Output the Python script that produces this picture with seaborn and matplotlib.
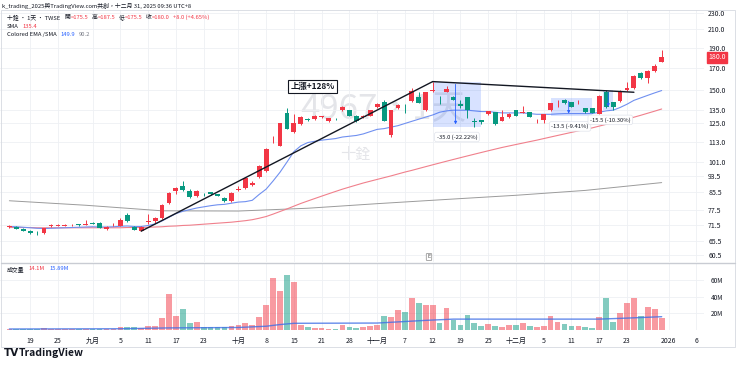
import numpy as np
import pandas as pd
import matplotlib
matplotlib.use("Agg")
import matplotlib.pyplot as plt
import seaborn as sns
from matplotlib.ticker import NullLocator
from matplotlib.lines import Line2D
from matplotlib.patches import Rectangle

# 十銓 (4967) daily bars, index 0 = 8/19
days = np.arange(-3, 92)

opens = [70.6, 70.6, 70.0, 69.0, 68.6, 68.2, 70.9, 71.0, 71.1, 71.2,
         71.5, 71.5, 71.9, 72.1, 69.8, 71.2, 71.0, 75.4, 70.6, 69.2,
         72.4, 72.8, 74.1, 80.8, 86.0, 88.6, 86.3, 83.8, 84.8, 85.5,
         84.5, 83.0, 81.6, 86.6, 87.4, 88.9, 92.8, 96.0, 113.2, 110.6,
         132.5, 119.5, 124.5, 128.0, 127.8, 129.3, 126.5, 128.3, 134.5, 134.5,
         130.4, 129.3, 130.4, 137.0, 141.0, 117.5, 136.1, 137.2, 141.5, 144.4,
         134.6, 149.8, 142.5, 149.0, 145.0, 139.4, 144.5, 126.9, 127.2, 131.7,
         133.0, 126.9, 129.4, 134.5, 132.6, 133.0, 127.8, 127.6, 134.5, 139.0,
         142.6, 140.5, 139.8, 135.8, 135.8, 132.0, 148.5, 140.5, 141.5, 150.2,
         152.0, 165.0, 160.3, 166.8, 175.5]
highs = [71.2, 71.0, 70.2, 69.3, 69.2, 70.4, 71.8, 71.6, 71.7, 71.8,
         71.9, 73.2, 72.6, 72.4, 70.8, 72.0, 74.2, 76.4, 70.9, 70.9,
         75.8, 74.5, 80.0, 85.5, 88.0, 91.0, 87.0, 86.6, 85.2, 85.8,
         84.8, 83.5, 85.5, 88.5, 93.2, 90.8, 99.5, 109.0, 116.5, 125.5,
         136.0, 131.5, 130.5, 129.0, 131.0, 130.6, 129.0, 128.8, 138.0, 135.0,
         130.8, 131.0, 135.0, 140.0, 142.5, 134.8, 139.5, 139.4, 152.3, 148.6,
         149.0, 157.5, 145.5, 153.5, 145.5, 142.0, 145.0, 128.5, 127.5, 134.2,
         133.5, 134.5, 132.2, 135.0, 137.8, 133.3, 128.3, 132.0, 140.2, 142.6,
         143.2, 141.0, 142.0, 136.2, 136.0, 146.0, 150.5, 141.0, 150.5, 157.0,
         163.0, 165.8, 167.5, 173.5, 187.5]
lows = [70.3, 69.8, 68.9, 68.1, 67.6, 68.0, 70.6, 70.8, 70.8, 71.0,
        71.1, 71.3, 71.6, 70.2, 69.5, 70.9, 70.8, 72.6, 69.3, 69.0,
        71.6, 72.3, 73.8, 80.0, 84.5, 86.0, 82.9, 83.5, 84.0, 84.3,
        83.6, 81.2, 81.2, 86.2, 87.0, 88.5, 92.3, 95.5, 112.5, 110.2,
        121.0, 118.5, 124.0, 127.0, 127.5, 128.8, 126.0, 127.7, 134.0, 130.0,
        126.2, 128.5, 130.0, 136.5, 126.5, 115.8, 135.2, 132.8, 141.0, 139.8,
        134.2, 148.8, 139.0, 148.5, 142.2, 136.5, 128.5, 122.5, 124.8, 131.3,
        124.2, 126.5, 129.0, 130.0, 132.2, 129.2, 125.0, 125.5, 134.0, 136.9,
        139.2, 136.8, 139.5, 132.7, 132.4, 131.6, 136.5, 135.0, 141.0, 149.8,
        151.5, 160.0, 156.5, 166.0, 175.5]
closes = [70.8, 70.0, 69.1, 68.4, 68.5, 70.3, 71.1, 71.5, 71.3, 71.4,
          71.3, 71.7, 71.7, 70.4, 70.6, 71.4, 73.2, 72.8, 69.5, 70.6,
          73.0, 74.0, 79.5, 85.0, 87.6, 86.5, 83.2, 86.0, 84.5, 84.6,
          83.8, 81.5, 85.0, 87.2, 92.7, 90.2, 98.9, 108.3, 113.7, 125.0,
          121.4, 125.2, 129.5, 127.6, 130.6, 130.2, 128.5, 128.0, 136.9, 130.4,
          126.6, 130.2, 134.5, 139.3, 126.8, 134.3, 138.3, 136.9, 149.2, 140.2,
          148.6, 150.4, 142.2, 151.2, 142.6, 137.8, 134.5, 125.7, 125.7, 133.6,
          124.6, 129.4, 131.6, 130.4, 133.5, 129.5, 128.0, 131.5, 139.6, 139.3,
          139.6, 137.0, 140.3, 133.0, 132.7, 145.5, 137.0, 136.9, 149.8, 152.0,
          162.6, 160.3, 166.8, 172.0, 180.0]
volumes = [1.0, 1.2, 1.5, 1.3, 1.2, 1.8, 1.0, 1.2, 0.9, 0.8,
           0.8, 1.0, 0.9, 1.5, 1.2, 1.0, 3.0, 3.2, 3.0, 2.8,
           5.0, 5.0, 14.0, 43.0, 16.5, 25.0, 8.0, 9.0, 3.0, 3.2,
           3.0, 4.0, 5.0, 6.0, 8.0, 6.0, 15.5, 30.0, 62.5, 47.0,
           66.0, 57.0, 6.0, 3.0, 2.0, 1.8, 1.5, 1.0, 6.0, 3.0,
           2.8, 3.0, 5.0, 6.0, 16.5, 16.0, 23.5, 22.0, 38.0, 32.0,
           30.0, 30.0, 8.0, 26.0, 12.5, 6.0, 18.5, 8.0, 5.0, 7.0,
           5.0, 3.0, 6.0, 6.0, 8.0, 5.0, 3.0, 5.0, 16.5, 10.0,
           7.0, 5.0, 5.0, 3.0, 2.0, 16.0, 38.0, 10.0, 20.5, 32.0,
           38.0, 16.5, 27.0, 24.5, 14.1]
ema_line = [70.8, 70.7, 70.5, 70.3, 70.1, 70.0, 70.1, 70.2, 70.3, 70.4,
            70.5, 70.6, 70.7, 70.6, 70.6, 70.7, 70.9, 71.0, 70.8, 70.8,
            71.2, 71.8, 73.0, 74.5, 76.0, 77.0, 77.7, 78.4, 78.9, 79.4,
            79.8, 80.0, 80.5, 81.0, 81.2, 81.8, 84.5, 87.0, 91.0, 95.5,
            101.0, 107.0, 110.5, 112.5, 113.3, 114.0, 114.5, 115.0, 116.0, 116.5,
            117.0, 118.0, 119.5, 121.0, 121.5, 122.5, 123.5, 125.0, 126.5, 128.0,
            129.5, 131.0, 133.0, 134.0, 134.5, 134.5, 134.5, 134.0, 133.5, 133.5,
            133.0, 132.5, 132.5, 132.5, 132.5, 132.0, 131.5, 131.5, 131.5, 131.8,
            132.0, 132.0, 132.0, 132.0, 132.0, 133.0, 134.0, 134.5, 136.5, 139.0,
            142.0, 144.0, 146.0, 148.0, 149.9]
sma_line = [70.4, 70.4, 70.4, 70.4, 70.3, 70.3, 70.3, 70.3, 70.3, 70.3,
            70.3, 70.3, 70.3, 70.3, 70.3, 70.3, 70.3, 70.4, 70.4, 70.4,
            70.5, 70.6, 70.7, 70.9, 71.0, 71.2, 71.3, 71.5, 71.7, 71.9,
            72.1, 72.3, 72.5, 72.8, 73.1, 73.5, 74.1, 74.8, 75.8, 76.9,
            78.0, 79.2, 80.4, 81.5, 82.6, 83.7, 84.8, 85.9, 87.0, 88.0,
            89.0, 90.0, 90.9, 91.8, 92.7, 93.6, 94.6, 95.6, 96.5, 97.5,
            98.5, 99.5, 100.5, 101.5, 102.5, 103.5, 104.5, 105.5, 106.5, 107.5,
            108.5, 109.5, 110.4, 111.3, 112.2, 113.1, 114.0, 115.0, 116.0, 117.0,
            118.0, 119.0, 120.0, 121.0, 122.0, 123.2, 124.4, 125.6, 126.8, 128.0,
            129.4, 130.8, 132.3, 133.8, 135.4]
long_days = [-3, 8, 19, 30, 40, 50, 60, 70, 80, 91]
long_line = [81.6, 79.6, 77.2, 77.1, 78.3, 80.3, 82.2, 84.1, 86.4, 90.2]
volma_days = [-3, 13, 20, 30, 34, 36, 38, 50, 57, 61, 82, 86, 91]
volma_line = [1.2, 1.5, 2.5, 3.0, 4.5, 6.5, 8.0, 8.3, 11.5, 13.0, 13.0, 14.2, 15.89]

price_ticks = [60.5, 65.5, 71.5, 77.5, 85.5, 93.5, 101.0, 113.0, 125.0,
               135.0, 150.0, 170.0, 190.0, 210.0, 230.0]
vol_ticks = [20, 40, 60]
date_ticks = [0, 4, 9, 13, 17, 21, 25, 30, 34, 38, 42, 46, 50, 54, 58, 62,
              66, 70, 74, 78, 82, 86, 92, 96]
date_labels = ["19", "25", "九月", "5", "11", "17", "23", "十月", "8", "15",
               "21", "28", "十一月", "7", "12", "19", "25", "十二月", "5", "11",
               "17", "23", "2026", "6"]

# drawing tools on the chart
trend_up = ([16, 58], [69.0, 157.5])
trend_flat = ([58, 87], [157.5, 148.5])
ranges = [  # x0, x1, top, bottom, arrow x, label, label x, label price
    (58, 65, 157.5, 122.5, 61.3, "-35.0 (-22.22%)", 61.5, 116.0),
    (75, 81, 143.5, 130.0, 77.6, "-13.5 (-9.41%)", 77.8, 123.0),
    (82.6, 84, 150.5, 135.0, 83.3, "-15.5 (-10.30%)", 83.6, 127.5),
]

RED = "#f23645"
GREEN = "#089981"
DARK = "#131722"
GRID = "#eef0f4"

df = pd.DataFrame({"day": days, "open": opens, "high": highs, "low": lows,
                   "close": closes, "volume": volumes,
                   "ema": ema_line, "sma": sma_line})
colors = np.where(df["close"] >= df["open"], RED, GREEN)

sns.set_theme(style="white")
plt.rcParams["font.family"] = ["Noto Sans CJK TC", "DejaVu Sans"]

W, H = 740, 367
fig = plt.figure(figsize=(W / 100, H / 100), dpi=100)


def frac(x0, y0, x1, y1):
    return [x0 / W, 1 - y1 / H, (x1 - x0) / W, (y1 - y0) / H]


ax = fig.add_axes(frac(0, 10, 704, 262))
axv = fig.add_axes(frac(0, 263, 704, 330), sharex=ax)

# price pane
sns.lineplot(x=long_days, y=long_line, ax=ax, color="#9b9b9b", linewidth=0.7, zorder=2)
sns.lineplot(data=df, x="day", y="sma", ax=ax, color="#f0808c", linewidth=0.8, zorder=2)
sns.lineplot(data=df, x="day", y="ema", ax=ax, color="#7090f0", linewidth=0.8, zorder=2)
ax.vlines(df["day"], df["low"], df["high"], colors=colors, linewidth=0.7, zorder=3)
body_low = np.minimum(df["open"], df["close"])
body_h = np.maximum((df["close"] - df["open"]).abs(), 0.3)
ax.bar(df["day"], body_h, bottom=body_low, width=0.7, color=colors, linewidth=0, zorder=4)

ax.set_yscale("log")
ax.set_ylim(58.2, 233.8)
ax.set_xlim(-4.35, 97.1)
ax.yaxis.set_minor_locator(NullLocator())
ax.yaxis.tick_right()
ax.set_yticks(price_ticks)
ax.set_yticklabels([f"{t:.1f}" for t in price_ticks])
ax.set_xticks(date_ticks)
ax.tick_params(axis="y", length=0, pad=3, labelsize=5, labelcolor=DARK)
ax.tick_params(axis="x", length=0, labelbottom=False)
ax.grid(True, color=GRID, linewidth=0.6)
ax.set_xlabel("")
ax.set_ylabel("")
for s in ax.spines.values():
    s.set_visible(False)

# watermark
ax.text(383 / W, 1 - 110 / H, "4967，1天", transform=fig.transFigure, ha="center",
        va="center", fontsize=25, color="#e4e5e9", zorder=0.5)
ax.text(355 / W, 1 - 155 / H, "十銓", transform=fig.transFigure, ha="center",
        va="center", fontsize=11, color="#e4e5e9", zorder=0.5)

# trend lines and range boxes
ax.plot(*trend_up, color=DARK, linewidth=1.0, zorder=5)
ax.plot(*trend_flat, color=DARK, linewidth=1.0, zorder=5)
ax.text(40.7, 153.2, "上漲+128%", fontsize=6, fontweight="bold", color=DARK,
        ha="center", va="center", zorder=6,
        bbox=dict(boxstyle="square,pad=0.25", fc="white", ec=DARK, lw=0.8))
for x0, x1, top, bot, axx, lab, lx, ly in ranges:
    ax.fill_between([x0, x1], bot, top, color="#2962ff", alpha=0.18, linewidth=0, zorder=2.5)
    ax.annotate("", xy=(axx, bot), xytext=(axx, top), zorder=6,
                arrowprops=dict(arrowstyle="-|>", color="#2962ff", lw=0.6, mutation_scale=4))
    ax.text(lx, ly, lab, fontsize=4.2, color=DARK, ha="center", va="center", zorder=6,
            bbox=dict(boxstyle="round,pad=0.35", fc="white", ec="#e0e3eb", lw=0.5))

# last price badge
ax.text(1.006, closes[-1], f"{closes[-1]:.1f}", transform=ax.get_yaxis_transform(),
        fontsize=5, color="white", ha="left", va="center",
        bbox=dict(boxstyle="square,pad=0.2", fc=RED, ec=RED))

# volume pane
axv.bar(df["day"], df["volume"], width=0.82, color=colors, alpha=0.5, linewidth=0)
sns.lineplot(x=volma_days, y=volma_line, ax=axv, color="#3f6fe6", linewidth=1.0, alpha=0.8)
axv.set_ylim(0, 80)
axv.yaxis.tick_right()
axv.set_yticks(vol_ticks)
axv.set_yticklabels([f"{v}M" for v in vol_ticks])
axv.set_xticks(date_ticks)
axv.set_xticklabels(date_labels)
axv.tick_params(axis="y", length=0, pad=5, labelsize=4.6, labelcolor=DARK)
axv.tick_params(axis="x", length=0, pad=5, labelsize=5, labelcolor=DARK)
axv.grid(True, color=GRID, linewidth=0.6)
axv.set_xlabel("")
axv.set_ylabel("")
for s in axv.spines.values():
    s.set_visible(False)


def text_run(host, x, y, pieces, size, gaps):
    prev = host.text(x / W, 1 - y / H, pieces[0][0], color=pieces[0][1],
                     fontsize=size, ha="left", va="center", transform=fig.transFigure,
                     zorder=7)
    for (s, c), g in zip(pieces[1:], gaps):
        prev = host.annotate(s, xy=(1, 0.5), xycoords=prev, xytext=(g, 0),
                             textcoords="offset points", color=c, fontsize=size,
                             ha="left", va="center", annotation_clip=False, zorder=7)


text_run(ax, 2, 6, [("k_trading_2025與TradingView.com共創，十二月 31, 2025 09:36 UTC+8", DARK)],
         4.2, [])
text_run(ax, 7, 17.5, [("十銓 · 1天 · TWSE", DARK), ("開", DARK), ("=175.5", RED),
                       ("高", DARK), ("=187.5", RED), ("低", DARK), ("=175.5", RED),
                       ("收", DARK), ("=180.0", RED), ("+8.0 (+4.65%)", RED)],
         4.2, [3, 0, 2.5, 0, 2.5, 0, 2.5, 0, 2.5])
text_run(ax, 7, 26.5, [("SMA", DARK), ("135.4", RED)], 4.2, [3])
text_run(ax, 7, 34.5, [("Colored EMA /SMA", DARK), ("149.9", "#2962ff"), ("90.2", "#787b86")],
         4.2, [3, 2.5])
text_run(axv, 7, 269, [("成交量", DARK), ("14.1M", RED), ("15.89M", "#2962ff")], 4.2, [3, 3])

# frame, pane separator, logo
fig.add_artist(Rectangle((1 / W, 1 - 347 / H), 734 / W, 337 / H, transform=fig.transFigure,
                         fill=False, ec="#d6d9e0", lw=0.6))
fig.add_artist(Line2D([1 / W, 735 / W], [1 - 262.5 / H] * 2, transform=fig.transFigure,
                      color="#c9ccd3", lw=1.0))
fig.text(429 / W, 1 - 257 / H, "E", fontsize=4, color="#555", ha="center", va="center",
         bbox=dict(boxstyle="round,pad=0.2", fc="white", ec="#888", lw=0.5))
fig.text(4 / W, 1 - 353.5 / H, "TV", fontsize=7.5, fontweight="heavy", color=DARK,
         ha="left", va="center", family="DejaVu Sans")
fig.text(19 / W, 1 - 353.5 / H, "TradingView", fontsize=7.5, fontweight="bold", color=DARK,
         ha="left", va="center")

fig.savefig("out.png", dpi=100)
plt.close(fig)
